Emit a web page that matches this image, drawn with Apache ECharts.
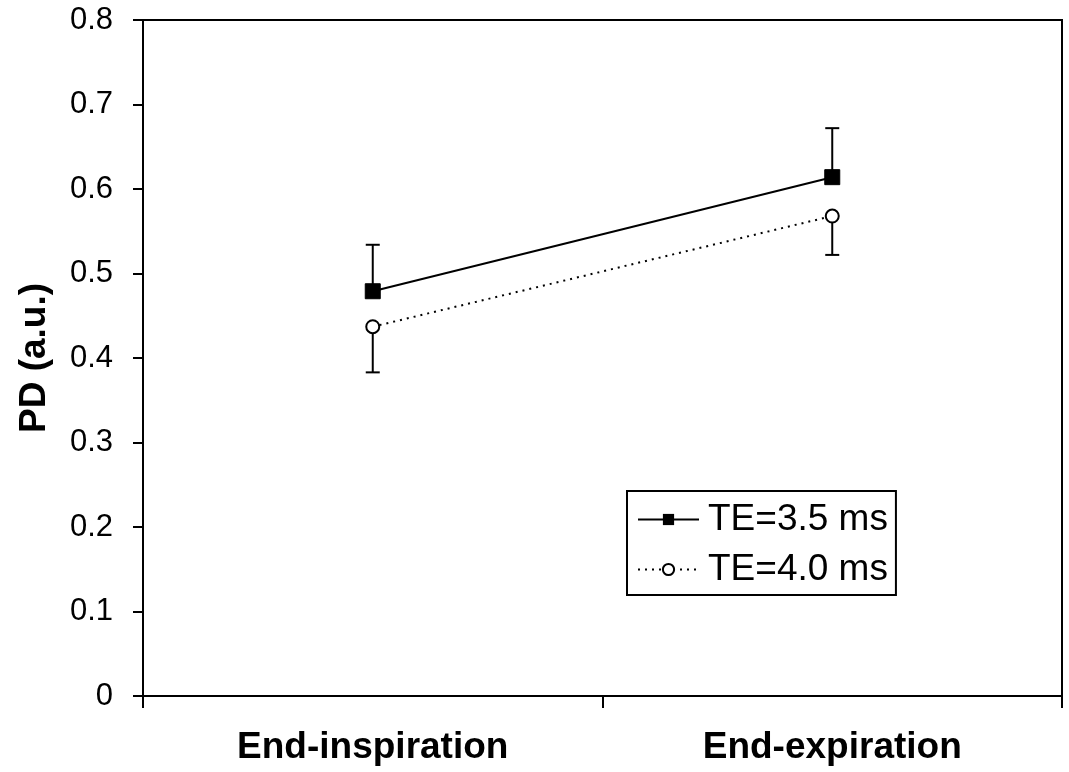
<!DOCTYPE html>
<html><head><meta charset="utf-8">
<script src="https://cdn.jsdelivr.net/npm/echarts@6/dist/echarts.min.js"></script>
<style>html,body{margin:0;padding:0;background:#fff}#c{width:1069px;height:772px}</style>
</head><body><div id="c"></div>
<script>
const categories = ['End-inspiration', 'End-expiration'];
const seriesNames = ['TE=3.5 ms', 'TE=4.0 ms'];
const te35 = [0.479, 0.614];
const te35Upper = [0.534, 0.672];
const te40 = [0.437, 0.568];
const te40Lower = [0.383, 0.522];
const yTicks = [0, 0.1, 0.2, 0.3, 0.4, 0.5, 0.6, 0.7, 0.8];

const font = 'Liberation Sans, Arial, sans-serif';

function errSeries(vals, ends) {
  return {
    type: 'custom', silent: true, z: 1,
    data: vals.map((v, i) => [i, v, ends[i]]),
    renderItem: function (params, api) {
      const p0 = api.coord([api.value(0), api.value(1)]);
      const p1 = api.coord([api.value(0), api.value(2)]);
      const hw = 7;
      const st = { stroke: '#000', lineWidth: 2 };
      return { type: 'group', children: [
        { type: 'line', shape: { x1: p0[0], y1: p0[1], x2: p1[0], y2: p1[1] }, style: st },
        { type: 'line', shape: { x1: p1[0] - hw, y1: p1[1], x2: p1[0] + hw, y2: p1[1] }, style: st }
      ]};
    }
  };
}

const chart = echarts.init(document.getElementById('c'), null, { renderer: 'canvas' });
chart.setOption({
  animation: false,
  backgroundColor: '#fff',
  grid: { left: 143, right: 7, top: 20, bottom: 76, show: true, borderColor: '#000', borderWidth: 2, backgroundColor: 'transparent' },
  xAxis: {
    type: 'category', data: categories, boundaryGap: true,
    axisLine: { lineStyle: { color: '#000', width: 2 } },
    axisTick: { show: true, length: 12, inside: false, lineStyle: { color: '#000', width: 2 } },
    axisLabel: { color: '#000', fontFamily: font, fontWeight: 'bold', fontSize: 37, margin: 33 },
    splitLine: { show: false }
  },
  yAxis: {
    type: 'value', min: 0, max: 0.8, interval: 0.1,
    name: 'PD (a.u.)', nameLocation: 'middle', nameGap: 90, nameRotate: 90,
    nameTextStyle: { color: '#000', fontFamily: font, fontWeight: 'bold', fontSize: 37 },
    axisLine: { show: true, lineStyle: { color: '#000', width: 2 } },
    axisTick: { show: true, length: 10, lineStyle: { color: '#000', width: 2 } },
    axisLabel: { color: '#000', fontFamily: font, fontSize: 31, margin: 30,
      formatter: v => { const t = yTicks.find(x => Math.abs(x - v) < 1e-9); return t === undefined ? '' : String(t); } },
    splitLine: { show: false }
  },
  legend: {
    orient: 'vertical', left: 627, top: 491,
    data: seriesNames,
    borderColor: '#000', borderWidth: 2, padding: [10, 8, 7, 10],
    itemWidth: 61, itemHeight: 14, itemGap: 13,
    textStyle: { color: '#000', fontFamily: font, fontSize: 37, padding: [0, 0, 0, 4] }
  },
  series: [
    errSeries(te35, te35Upper),
    errSeries(te40, te40Lower),
    {
      name: seriesNames[0], type: 'line', data: te35, z: 3,
      symbol: 'rect', symbolSize: 15,
      lineStyle: { color: '#000', width: 2 },
      itemStyle: { color: '#000', borderColor: '#000' }
    },
    {
      name: seriesNames[1], type: 'line', data: te40, z: 3,
      symbol: 'circle', symbolSize: 13,
      lineStyle: { color: '#000', width: 2, type: [2, 5] },
      itemStyle: { color: '#fff', borderColor: '#000', borderWidth: 2 }
    }
  ]
});
</script></body></html>
